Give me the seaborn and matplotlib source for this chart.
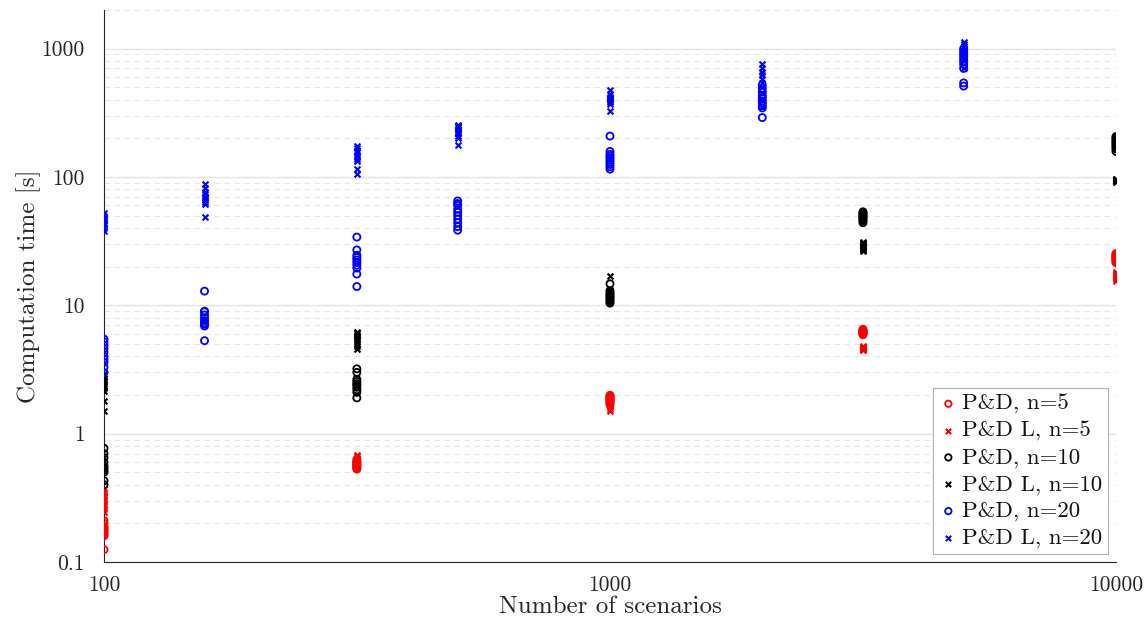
import numpy as np
import pandas as pd
import seaborn as sns
import matplotlib
matplotlib.use("Agg")
import matplotlib.pyplot as plt
from matplotlib.ticker import LogLocator, NullFormatter

# Scenario counts at which each problem size was benchmarked
scen_n5 = [100, 316, 1000, 3162, 10000]
scen_n10 = [100, 316, 1000, 3162, 10000]
scen_n20 = [100, 158, 316, 500, 1000, 2000, 5000]

# Computation times [s], one list of repeated runs per scenario count
pd_n5 = [
    [0.125, 0.16, 0.165, 0.17, 0.175, 0.18, 0.185, 0.19, 0.20, 0.21],
    [0.53, 0.54, 0.55, 0.56, 0.57, 0.58, 0.59, 0.60, 0.61, 0.63],
    [1.68, 1.72, 1.76, 1.80, 1.83, 1.86, 1.89, 1.92, 1.95, 1.99],
    [5.9, 6.0, 6.05, 6.1, 6.15, 6.2, 6.25, 6.3, 6.4, 6.5],
    [21.5, 22, 22.5, 23, 23.3, 23.7, 24, 24.4, 24.8, 25.3],
]
pdl_n5 = [
    [0.245, 0.26, 0.275, 0.285, 0.30, 0.31, 0.32, 0.33, 0.35, 0.37],
    [0.55, 0.57, 0.59, 0.61, 0.62, 0.63, 0.64, 0.65, 0.67, 0.68],
    [1.50, 1.55, 1.60, 1.64, 1.68, 1.72, 1.76, 1.80, 1.85, 1.90],
    [4.45, 4.5, 4.55, 4.6, 4.62, 4.65, 4.7, 4.72, 4.75, 4.8],
    [15.5, 15.9, 16.2, 16.5, 16.8, 17.0, 17.3, 17.6, 17.9, 18.2],
]
pd_n10 = [
    [0.40, 0.43, 0.50, 0.52, 0.54, 0.56, 0.60, 0.65, 0.70, 0.77],
    [1.9, 2.1, 2.2, 2.3, 2.4, 2.45, 2.55, 2.65, 3.0, 3.2],
    [10.4, 10.7, 11.0, 11.3, 11.6, 11.9, 12.2, 12.6, 13.0, 14.7],
    [44, 45.5, 46.5, 47.5, 48.5, 49.5, 50.5, 51.5, 52.5, 53.5],
    [158, 165, 170, 175, 180, 185, 190, 195, 200, 206],
]
pdl_n10 = [
    [1.5, 1.8, 2.15, 2.25, 2.35, 2.45, 2.55, 2.6, 2.7, 2.9],
    [4.6, 4.8, 5.0, 5.2, 5.4, 5.6, 5.8, 5.9, 6.05, 6.2],
    [11.0, 11.3, 11.5, 11.8, 12.0, 12.3, 12.5, 12.8, 13.2, 16.8],
    [26.5, 27, 27.5, 28, 28.5, 29, 29.5, 30, 30.5, 31],
    [91, 92, 92.5, 93, 93.5, 94, 94.5, 95, 96, 97],
]
pd_n20 = [
    [3.0, 3.3, 3.6, 3.8, 4.0, 4.3, 4.6, 4.9, 5.2, 5.45],
    [5.3, 6.9, 7.1, 7.3, 7.6, 8.0, 8.4, 8.9, 9.0, 12.9],
    [14, 17.5, 19.5, 20.5, 21.5, 22.5, 23.5, 24.5, 27, 34],
    [38.5, 41, 44, 47, 50, 53, 56, 60, 62, 65],
    [115, 120, 125, 130, 135, 140, 145, 150, 158, 208],
    [290, 345, 360, 375, 390, 410, 430, 460, 490, 520],
    [510, 540, 700, 750, 790, 830, 870, 910, 950, 1000],
]
pdl_n20 = [
    [38, 40, 42, 43, 44, 45, 47, 48, 50, 52],
    [49, 62, 64, 66, 68, 70, 73, 76, 82, 88],
    [105, 115, 133, 138, 143, 148, 155, 160, 167, 174],
    [178, 200, 210, 218, 225, 232, 238, 243, 250, 255],
    [325, 370, 385, 395, 400, 405, 410, 420, 440, 475],
    [350, 400, 450, 500, 540, 580, 620, 660, 700, 760],
    [700, 800, 850, 900, 940, 980, 1010, 1040, 1080, 1120],
]

series_labels = ["P&D, n=5", "P&D L, n=5", "P&D, n=10",
                 "P&D L, n=10", "P&D, n=20", "P&D L, n=20"]
series_colors = ["#ff0000", "#ff0000", "#000000", "#000000", "#0000ff", "#0000ff"]
series_markers = ["o", "x", "o", "x", "o", "x"]

y_ticks = [0.1, 1, 10, 100, 1000]
y_tick_labels = ["0.1", "1", "10", "100", "1000"]
x_ticks = [100, 1000, 10000]
x_tick_labels = ["100", "1000", "10000"]


def to_frame(scen, runs):
    rows = [(s, t) for s, ts in zip(scen, runs) for t in ts]
    return pd.DataFrame(rows, columns=["scenarios", "time"])


frames = [
    to_frame(scen_n5, pd_n5), to_frame(scen_n5, pdl_n5),
    to_frame(scen_n10, pd_n10), to_frame(scen_n10, pdl_n10),
    to_frame(scen_n20, pd_n20), to_frame(scen_n20, pdl_n20),
]

sns.set_theme(style="white")
plt.rcParams["font.family"] = ["cmr10", "DejaVu Serif"]
plt.rcParams["mathtext.fontset"] = "cm"
plt.rcParams["axes.formatter.use_mathtext"] = True

fig = plt.figure(figsize=(11.48, 6.19), dpi=100)
ax = fig.add_axes([0.0906, 0.092, 0.8815, 0.892])

for df, lab, col, mk in zip(frames, series_labels, series_colors, series_markers):
    if mk == "o":
        sns.scatterplot(data=df, x="scenarios", y="time", ax=ax, marker="o",
                        s=26, color=col, facecolor="none", edgecolor=col,
                        linewidth=1.3, label=lab, zorder=3)
    else:
        sns.scatterplot(data=df, x="scenarios", y="time", ax=ax, marker="x",
                        s=18, color=col, linewidth=1.5, label=lab, zorder=3)

ax.set_xscale("log")
ax.set_yscale("log")
ax.set_xlim(100, 10000)
ax.set_ylim(0.1, 2000)

ax.set_xticks(x_ticks, labels=x_tick_labels)
ax.set_yticks(y_ticks, labels=y_tick_labels)
ax.xaxis.set_minor_locator(LogLocator(base=10, subs=np.arange(2, 10)))
ax.yaxis.set_minor_locator(LogLocator(base=10, subs=np.arange(2, 10)))
ax.xaxis.set_minor_formatter(NullFormatter())
ax.yaxis.set_minor_formatter(NullFormatter())

ax.grid(False)
ax.yaxis.grid(True, which="major", color="#e3e3e3", linewidth=1.0, linestyle="-")
ax.yaxis.grid(True, which="minor", color="#e6e6e6", linewidth=0.8,
              linestyle=(0, (5, 4)))
ax.set_axisbelow(True)

for side in ["top", "right"]:
    ax.spines[side].set_visible(False)
for side in ["left", "bottom"]:
    ax.spines[side].set_color("#262626")
    ax.spines[side].set_linewidth(0.8)

ax.tick_params(axis="both", which="major", direction="out", length=7,
               width=0.8, color="#262626", labelsize=15.5, labelcolor="#262626")
ax.tick_params(axis="y", which="major", pad=7)
ax.tick_params(axis="x", which="major", pad=3)
ax.tick_params(axis="both", which="minor", direction="out", length=3.5,
               width=0.6, color="#262626")

ax.set_xlabel("Number of scenarios", fontsize=18, color="#262626", labelpad=0)
ax.set_ylabel("Computation time [s]", fontsize=18, color="#262626", labelpad=0)

leg = ax.legend(loc="lower right", fontsize=16.5, frameon=True, fancybox=False,
                framealpha=1, edgecolor="#b0b0b0", borderpad=0.25,
                labelspacing=0.28, handletextpad=0.2, handlelength=0.8,
                borderaxespad=0.35, markerscale=0.9)
leg.get_frame().set_linewidth(0.8)
for t in leg.get_texts():
    t.set_color("#111111")

fig.savefig("out.png", dpi=100)
